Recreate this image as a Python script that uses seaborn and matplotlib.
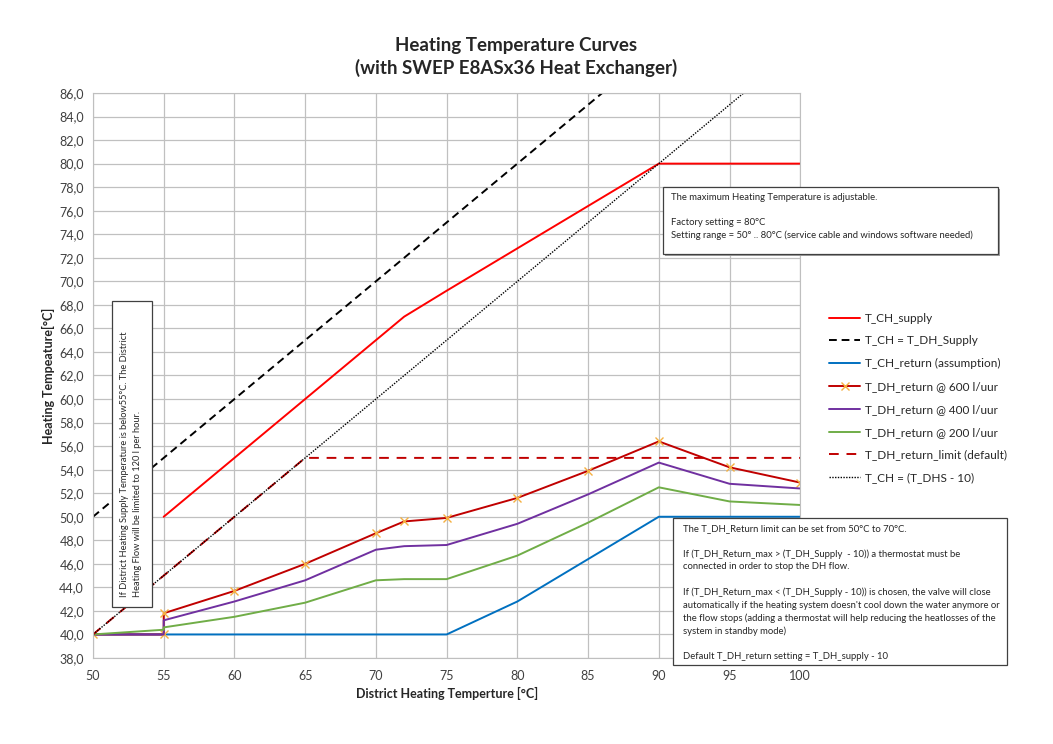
import numpy as np
import pandas as pd
import matplotlib
matplotlib.use("Agg")
import matplotlib.pyplot as plt
import matplotlib.ticker as mticker
from matplotlib.patches import Rectangle
import seaborn as sns

# --- data ---
x_supply = [55, 60, 65, 70, 72, 75, 80, 85, 90, 95, 100]
ch_supply = [50, 55, 60, 65, 67, 69.2, 72.8, 76.4, 80, 80, 80]

x_equal = [50, 100]
ch_equal = [50, 100]

x_return = [50, 55, 60, 65, 70, 75, 80, 85, 90, 95, 100]
ch_return = [40, 40, 40, 40, 40, 40, 42.8, 46.4, 50, 50, 50]

x_dh = [50, 55, 55, 60, 65, 70, 72, 75, 80, 85, 90, 95, 100]
dh_600 = [40, 40, 41.8, 43.7, 46.0, 48.6, 49.6, 49.9, 51.6, 53.9, 56.4, 54.2, 52.9]
dh_400 = [40, 40, 41.2, 42.8, 44.6, 47.2, 47.5, 47.6, 49.4, 51.9, 54.6, 52.8, 52.4]
dh_200 = [40, 40.4, 40.6, 41.5, 42.7, 44.6, 44.7, 44.7, 46.7, 49.5, 52.5, 51.3, 51.0]

x_limit = [50, 65, 100]
dh_limit = [40, 55, 55]

x_minus10 = [50, 100]
ch_minus10 = [40, 90]

series = [
    ("T_CH_supply", x_supply, ch_supply, "#FF0000", "-", None),
    ("T_CH = T_DH_Supply", x_equal, ch_equal, "black", (0, (4, 2.5)), None),
    ("T_CH_return (assumption)", x_return, ch_return, "#0070C0", "-", None),
    ("T_DH_return @ 600 l/uur", x_dh, dh_600, "#C00000", "-", "x"),
    ("T_DH_return @ 400 l/uur", x_dh, dh_400, "#7030A0", "-", None),
    ("T_DH_return @ 200 l/uur", x_dh, dh_200, "#70AD47", "-", None),
    ("T_DH_return_limit (default)", x_limit, dh_limit, "#C00000", (0, (5, 4)), None),
    ("T_CH = (T_DHS - 10)", x_minus10, ch_minus10, "black", (0, (1, 1)), None),
]

sns.set_style("white")
plt.rcParams['font.family'] = ['Lato', 'DejaVu Sans']

fig = plt.figure(figsize=(10.53, 7.44), dpi=100)
ax = fig.add_axes([0.0883, 0.1156, 0.6717, 0.7594])

for name, xs, ys, color, ls, marker in series:
    df = pd.DataFrame({"x": xs, "y": ys})
    sns.lineplot(data=df, x="x", y="y", ax=ax, estimator=None, sort=False,
                 color=color, linestyle=ls,
                 linewidth=1.4 if ls != (0, (1, 1)) else 1.0,
                 marker=marker, markersize=6, markeredgecolor="#F5B041",
                 markeredgewidth=1.0, label=name)

ax.set_xlim(50, 100)
ax.set_ylim(38, 86)
ax.set_xticks(np.arange(50, 101, 5))
ax.set_yticks(np.arange(38, 86.1, 2))
ax.yaxis.set_major_formatter(mticker.FuncFormatter(lambda v, p: f"{v:.1f}".replace(".", ",")))
ax.grid(True, color="#C0C0C0", linewidth=0.9)
for sp in ax.spines.values():
    sp.set_color("#BFBFBF")
ax.tick_params(axis="both", labelsize=9, colors="#404040", length=3, color="#BFBFBF")
ax.tick_params(axis="x", pad=6)

ax.set_xlabel("District Heating Temperture [°C]", fontsize=9, fontweight="bold", labelpad=3)
ax.set_ylabel("Heating Tempeature[°C]", fontsize=9, fontweight="bold", labelpad=3)

fig.suptitle("Heating Temperature Curves\n(with SWEP E8ASx36 Heat Exchanger)",
             x=0.49, y=0.95, fontsize=13.5, fontweight="bold", linespacing=1.3)

leg = ax.legend(loc="upper left", bbox_to_anchor=(1.025, 0.63), frameon=False,
                fontsize=8.5, handlelength=2.7, labelspacing=1.0, handletextpad=0.35,
                numpoints=1)

W, H = 1053, 744


def fig_box(x0, y0, x1, y1, shadow=False):
    if shadow:
        fig.patches.append(Rectangle((x0 / W + 0.002, 1 - y1 / H - 0.003),
                                     (x1 - x0) / W, (y1 - y0) / H,
                                     transform=fig.transFigure, facecolor="#A0A0A0",
                                     edgecolor="none", zorder=5))
    fig.patches.append(Rectangle((x0 / W, 1 - y1 / H), (x1 - x0) / W, (y1 - y0) / H,
                                 transform=fig.transFigure, facecolor="white",
                                 edgecolor="#404040", linewidth=0.9, zorder=6))


# vertical note near 55 °C
fig_box(112, 301, 152, 607)
fig.text(131 / W, 1 - 597 / H,
         "If District Heating Supply Temperature is below55°C. The District\n"
         "Heating Flow will be limited to 120 l per hour.",
         rotation=90, fontsize=6.7, ha="left", va="center", linespacing=1.65, zorder=7,
         rotation_mode="anchor", multialignment="left")

# maximum heating temperature note
fig_box(663, 187, 998, 254, shadow=True)
fig.text(671 / W, 1 - 193 / H,
         "The maximum Heating Temperature is adjustable.\n\n"
         "Factory setting = 80°C\n"
         "Setting range = 50° .. 80°C (service cable and windows software needed)",
         fontsize=6.8, ha="left", va="top", linespacing=1.5, zorder=7)

# return limit note
fig_box(673, 518, 1007, 665)
fig.text(683 / W, 1 - 524 / H,
         "The T_DH_Return limit can be set from 50°C to 70°C.\n\n"
         "If (T_DH_Return_max > (T_DH_Supply  - 10)) a thermostat must be\n"
         "connected in order to stop the DH flow.\n\n"
         "If (T_DH_Return_max < (T_DH_Supply - 10)) is chosen, the valve will close\n"
         "automatically if the heating system doesn't cool down the water anymore or\n"
         "the flow stops (adding a thermostat will help reducing the heatlosses of the\n"
         "system in standby mode)\n\n"
         "Default T_DH_return setting = T_DH_supply - 10",
         fontsize=6.8, ha="left", va="top", linespacing=1.5, zorder=7)

fig.savefig("out.png", dpi=100)
